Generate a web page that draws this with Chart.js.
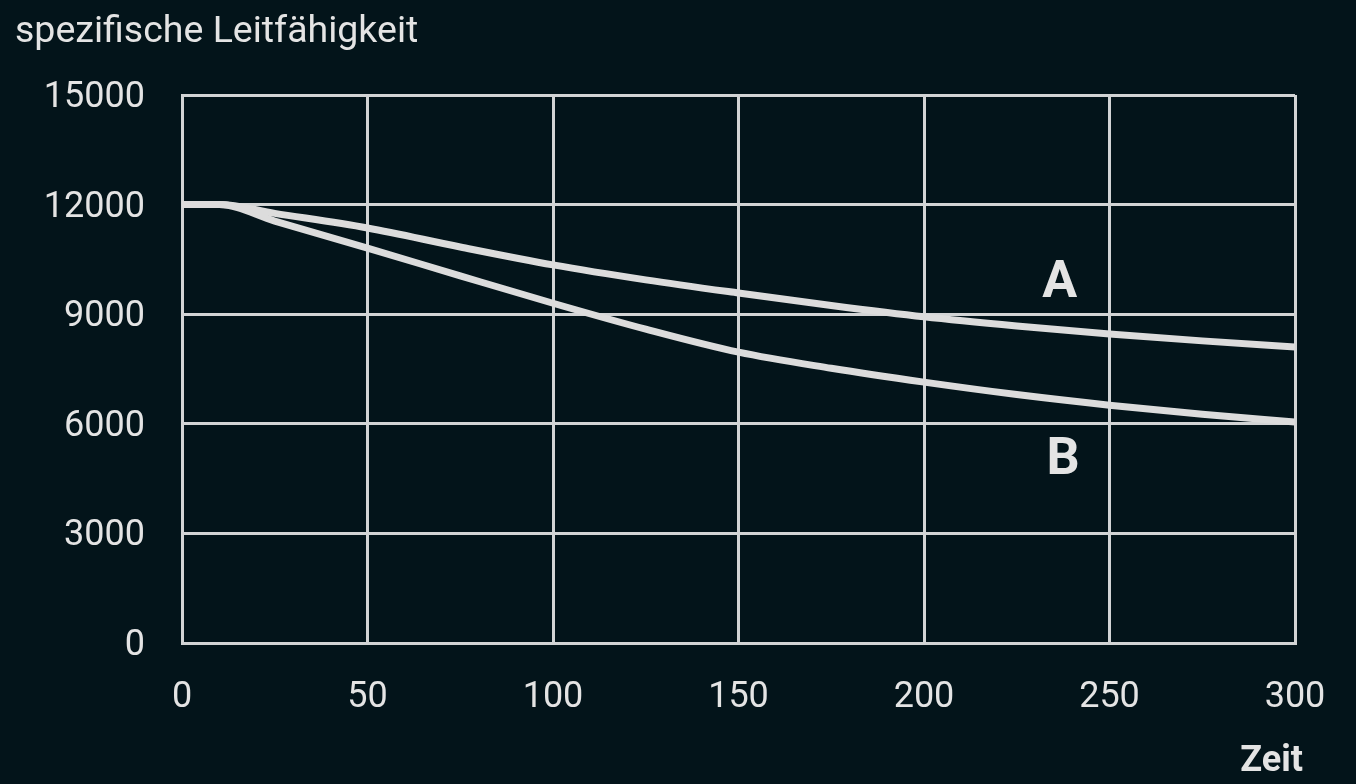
<!DOCTYPE html>
<html>
<head>
<meta charset="utf-8">
<script src="https://cdn.jsdelivr.net/npm/chart.js@4.4.0/dist/chart.umd.min.js"></script>
<style>
  html, body { margin: 0; padding: 0; background: #03141a; }
  #wrap { width: 1356px; height: 784px; position: relative; }
</style>
</head>
<body>
<div id="wrap"><canvas id="leitCanvas"></canvas></div>
<script>
// Zeit-Werte (x) und die zwei Kurven A und B
const zeit = [0, 10, 25, 50, 75, 100, 125, 150, 175, 200, 225, 250, 275, 300];
const kurveA = [12000, 12000, 11760, 11360, 10840, 10350, 9940, 9580, 9240, 8930, 8680, 8460, 8270, 8100];
const kurveB = [12000, 12000, 11550, 10810, 10050, 9300, 8590, 7960, 7520, 7140, 6800, 6510, 6260, 6050];
const yTicks = [0, 3000, 6000, 9000, 12000, 15000];
const xTicks = [0, 50, 100, 150, 200, 250, 300];

const lineColor = '#dcdcdc';
const gridColor = '#d2d4d5';
const textColor = '#e4e4e4';

function toPoints(ys) {
    return zeit.map((x, i) => ({ x: x, y: ys[i] }));
}

// Beschriftungen: Titel, Kurvennamen, Achsenname
const textPlugin = {
    id: 'texte',
    afterDraw(chart) {
        const ctx = chart.ctx;
        const xs = chart.scales.x;
        const ys = chart.scales.y;
        ctx.save();
        ctx.fillStyle = textColor;
        ctx.textBaseline = 'alphabetic';
        ctx.textAlign = 'left';
        ctx.font = '37.5px Roboto';
        ctx.fillText('spezifische Leitfähigkeit', 15, 42);

        ctx.font = 'bold 52px Roboto';
        ctx.textAlign = 'center';
        ctx.textBaseline = 'middle';
        ctx.fillText('A', xs.getPixelForValue(236.6), ys.getPixelForValue(9830));
        ctx.fillText('B', xs.getPixelForValue(237.5), ys.getPixelForValue(4980));

        ctx.font = 'bold 36px Roboto';
        ctx.textAlign = 'right';
        ctx.textBaseline = 'alphabetic';
        ctx.fillText('Zeit', 1303, 771);
        ctx.restore();
    }
};

const ctx = document.getElementById('leitCanvas').getContext('2d');
const leitChart = new Chart(ctx, {
    type: 'line',
    data: {
        datasets: [
            {
                label: 'A',
                data: toPoints(kurveA),
                borderColor: lineColor,
                borderWidth: 7,
                pointRadius: 0,
                cubicInterpolationMode: 'monotone',
                fill: false
            },
            {
                label: 'B',
                data: toPoints(kurveB),
                borderColor: lineColor,
                borderWidth: 7,
                pointRadius: 0,
                cubicInterpolationMode: 'monotone',
                fill: false
            }
        ]
    },
    options: {
        responsive: true,
        maintainAspectRatio: false,
        animation: false,
        layout: {
            autoPadding: false,
            padding: { left: 0, right: 61, top: 95, bottom: 0 }
        },
        plugins: {
            legend: { display: false },
            tooltip: { enabled: false }
        },
        scales: {
            x: {
                type: 'linear',
                min: 0,
                max: 300,
                afterFit: function(scale) {
                    scale.height = 141;
                    scale.paddingLeft = 0;
                    scale.paddingRight = 0;
                },
                afterBuildTicks: function(scale) {
                    scale.ticks = xTicks.map(v => ({ value: v }));
                },
                grid: {
                    color: gridColor,
                    lineWidth: 3,
                    drawTicks: false
                },
                border: { color: gridColor, width: 3 },
                ticks: {
                    color: textColor,
                    font: { family: 'Roboto', size: 36 },
                    padding: 33,
                    maxRotation: 0
                }
            },
            y: {
                type: 'linear',
                min: 0,
                max: 15000,
                afterFit: function(scale) {
                    scale.width = 182;
                    scale.paddingTop = 0;
                    scale.paddingBottom = 0;
                },
                afterBuildTicks: function(scale) {
                    scale.ticks = yTicks.map(v => ({ value: v }));
                },
                grid: {
                    color: gridColor,
                    lineWidth: 3,
                    drawTicks: false
                },
                border: { color: gridColor, width: 3 },
                ticks: {
                    color: textColor,
                    font: { family: 'Roboto', size: 36 },
                    padding: 37,
                    labelOffset: 3,
                    callback: function(v) { return String(v); }
                }
            }
        }
    },
    plugins: [textPlugin]
});
</script>
</body>
</html>
